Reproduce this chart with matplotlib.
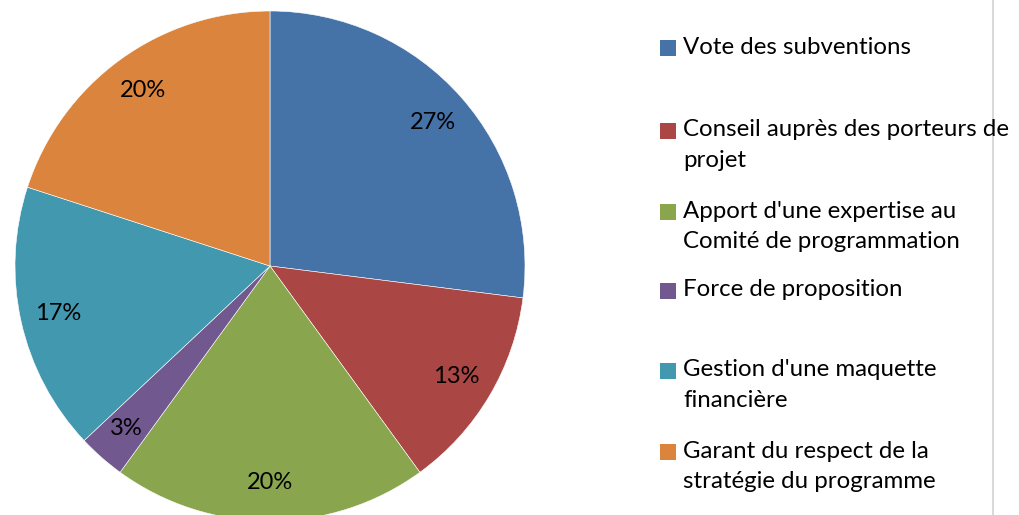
import matplotlib
matplotlib.use("Agg")
import matplotlib.pyplot as plt
from matplotlib.patches import Rectangle
from matplotlib.lines import Line2D

categories = [
    "Vote des subventions",
    "Conseil auprès des porteurs de\nprojet",
    "Apport d'une expertise au\nComité de programmation",
    "Force de proposition",
    "Gestion d'une maquette\nfinancière",
    "Garant du respect de la\nstratégie du programme",
]
values = [27, 13, 20, 3, 17, 20]
colors = ["#4572A7", "#AA4643", "#89A54E", "#71588F", "#4198AF", "#DB843D"]

plt.rcParams['font.family'] = ['Lato', 'DejaVu Sans']

W, H = 1019, 515
fig = plt.figure(figsize=(W / 100, H / 100), dpi=100)

# pie axes: center (270,266) px, radius 255 px
cx, cy, r = 270, 266, 255
ax = fig.add_axes([(cx - r) / W, (H - cy - r) / H, 2 * r / W, 2 * r / H])
wedges, texts, autotexts = ax.pie(
    values, colors=colors, startangle=90, counterclock=False,
    autopct='%1.0f%%', pctdistance=0.85, radius=1,
    wedgeprops=dict(linewidth=0.4, edgecolor='white'),
    textprops=dict(fontsize=17, color='black'))
ax.set_xlim(-1, 1)
ax.set_ylim(-1, 1)
ax.set_aspect('equal')
ax.axis('off')

# legend drawn manually
entry_y = [47, 130, 211, 290, 370, 451]
line_gap = 30.5
for lab, col, y in zip(categories, colors, entry_y):
    fig.patches.append(Rectangle((660 / W, 1 - (y + 9) / H), 16 / W, 16 / H,
                                 transform=fig.transFigure, facecolor=col,
                                 edgecolor='none'))
    for i, line in enumerate(lab.split("\n")):
        fig.text(683 / W, 1 - (y + i * line_gap) / H, line, fontsize=17.3,
                 va='center', ha='left', color='black')

fig.lines.append(Line2D([993 / W, 993 / W], [0, 1], transform=fig.transFigure,
                        color='#D9D9D9', linewidth=1.5))

fig.savefig("out.png", dpi=100)
